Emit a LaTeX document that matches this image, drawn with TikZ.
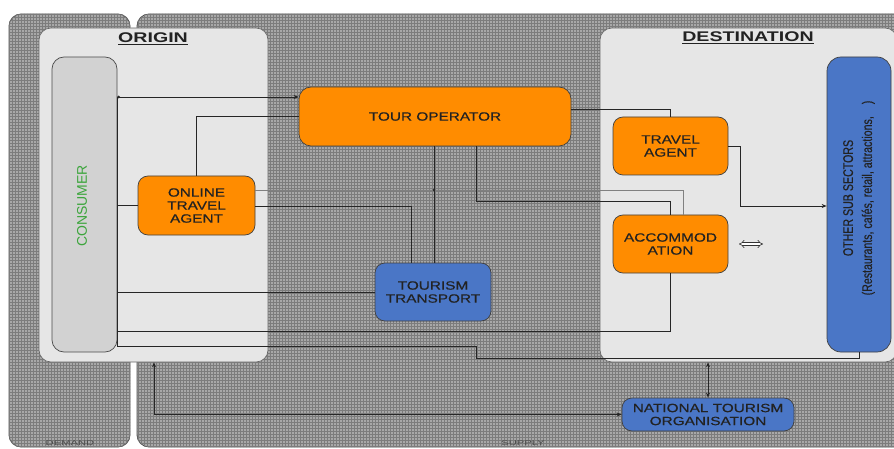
\documentclass[tikz,border=0pt]{standalone}
\usepackage{fontspec}
\setmainfont{Liberation Sans}
\newfontfamily\boxfont[FakeStretch=1.28,FakeBold=0.4]{Liberation Sans}
\newfontfamily\headfont[FakeStretch=1.4]{Liberation Sans}
\newfontfamily\sidefont[FakeStretch=0.76,FakeBold=0.4]{Liberation Sans}
\newfontfamily\tinyfont[FakeStretch=1.6]{Liberation Sans}
\usetikzlibrary{arrows.meta,patterns,calc}
\definecolor{hatchbase}{HTML}{A8A8A8}
\definecolor{hatchline}{HTML}{7C7C7C}
\definecolor{regionfill}{HTML}{E6E6E6}
\definecolor{consfill}{HTML}{D2D2D2}
\definecolor{orangefill}{HTML}{FF8C00}
\definecolor{bluefill}{HTML}{4A76C6}
\definecolor{textdark}{HTML}{222222}
\definecolor{consgreen}{HTML}{3CA53C}
\begin{document}
\begin{tikzpicture}[x=1pt,y=-1pt,
  panel/.style={draw=black!70, line width=0.8pt, rounded corners=12pt, fill=hatchbase,
    postaction={pattern=grid, pattern color=hatchline}},
  region/.style={draw=black!60, line width=0.6pt, rounded corners=12pt, fill=regionfill, inner sep=0pt},
  box/.style={draw=black!75, line width=0.7pt, rounded corners=10pt, inner sep=0pt, align=center,
    text=textdark, font={\boxfont\fontsize{12}{13}\selectfont}},
  orangebox/.style={box, fill=orangefill},
  bluebox/.style={box, fill=bluefill},
  headlbl/.style={anchor=base, text=textdark, font={\headfont\bfseries\fontsize{14}{16}\selectfont}},
  footlbl/.style={text=black!70, font={\tinyfont\fontsize{7}{8}\selectfont}},
  link/.style={draw=black!85, line width=0.8pt},
  graylink/.style={draw=black!50, line width=0.8pt},
  tipend/.style={-{Stealth[length=5pt,width=4pt]}},
  tipboth/.style={{Stealth[length=5pt,width=4pt]}-{Stealth[length=5pt,width=4pt]}}
]
\useasboundingbox (0,0) rectangle (894,449);

% hatched background panels
\path[panel] (9,14) rectangle (130,447);
\path[panel] (137,14) rectangle (910,447);

% regions
\node[region, minimum width=229, minimum height=334] (origin) at (153.5,195) {};
\node[region, minimum width=297, minimum height=334] (dest) at (748.5,195) {};
\node[headlbl] (originlbl) at (153,43) {\underline{ORIGIN}};
\node[headlbl] (destlbl) at (748,42) {\underline{DESTINATION}};

% consumer
\node[draw=black!70, line width=0.7pt, fill=consfill, rounded corners=12pt, inner sep=0pt,
      minimum width=65, minimum height=295] (consumer) at (84.5,204.5) {};
\node[rotate=90, text=consgreen, font={\fontsize{14}{16}\selectfont}] (conslbl) at (82,206) {CONSUMER};

% other sub sectors
\node[bluebox, rounded corners=14pt, minimum width=64, minimum height=295] (other) at (859,204.5) {};
\node[rotate=90, align=center, text=textdark, font={\sidefont\fontsize{14}{19}\selectfont}] (otherlbl) at (859,198)
  {OTHER SUB SECTORS\\(Restaurants, cafés, retail, attractions,\hspace{12pt})};

% boxes
\node[orangebox, rounded corners=12pt, minimum width=272, minimum height=59] (tour) at (435,116.5) {TOUR OPERATOR};
\node[orangebox, minimum width=117, minimum height=59] (ota) at (196.5,205.5) {ONLINE\\TRAVEL\\AGENT};
\node[bluebox, minimum width=116, minimum height=58] (transport) at (433,292) {TOURISM\\TRANSPORT};
\node[orangebox, minimum width=115, minimum height=58] (ta) at (670.5,146) {TRAVEL\\AGENT};
\node[orangebox, minimum width=115, minimum height=58] (acc) at (670.5,244) {ACCOMMOD\\ATION};
\node[bluebox, minimum width=172, minimum height=33] (nto) at (708,414.5) {NATIONAL TOURISM\\ORGANISATION};

% footer labels
\node[footlbl] (demandlbl) at (70,443) {DEMAND};
\node[footlbl] (supplylbl) at (523,443) {SUPPLY};

% connectors
\draw[link] (consumer.east |- 0,97) -- (consumer.east |- 0,346);
\draw[link, {Circle[length=2.5pt]}-{Stealth[length=5pt,width=4pt]}] (consumer.east |- 0,97) -- (tour.west |- 0,97);
\draw[link] (tour.west) -| (ota.north);
\draw[link] (consumer.east |- ota.west) -- (ota.west);
\draw[graylink] (ota.east |- 0,190) -| ($(acc.north)+(12.5,0)$);
\draw[link] (ota.east |- 0,206) -| (transport.north -| 411,0);
\draw[link] (tour.south -| 434,0) -- (transport.north -| 434,0);
\fill[black!85] (434,190) circle (1.3pt);
\draw[link] (tour.south -| 476,0) |- ($(acc.north)+(0,-13)$) -- (acc.north);
\draw[link] (tour.east |- 0,109) -| (ta.north);
\draw[link, tipend] (ta.east) -| (740,206) -- (other.west |- 0,206);
\draw[link] (consumer.east |- transport.west) -- (transport.west);
\draw[link] (consumer.east |- 0,331) -| (acc.south);
\draw[link] (consumer.east |- 0,346) -| (476,358) -| (other.south);
\draw[link, tipboth] (origin.south -| 154,0) |- (nto.west);
\draw[link, tipboth] (dest.south -| nto.north) -- (nto.north);

% double arrow symbol
\draw[black!80, line width=0.6pt, double distance=2.2pt, {Implies}-{Implies}] (739,244) -- (763,244);
\end{tikzpicture}
\end{document}
